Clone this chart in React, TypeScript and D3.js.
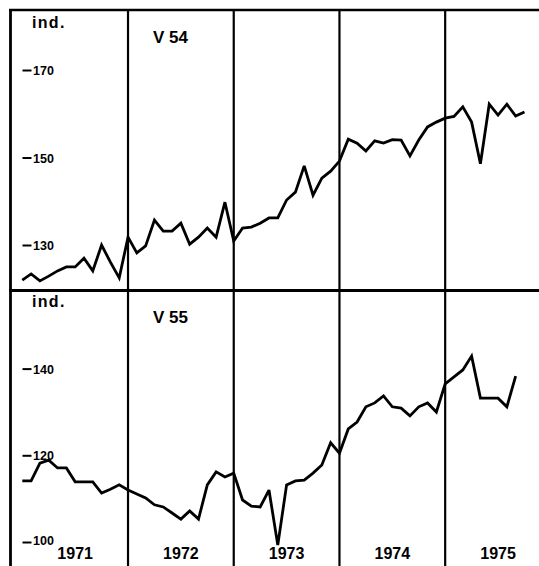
import React from "react";
import * as d3 from "d3";

const years = ["1971", "1972", "1973", "1974", "1975"];

// V54 monthly index, Jan 1971 - Oct 1975
const v54 = [
  122.1, 123.5, 121.9, 123.0, 124.2, 125.1, 125.1, 127.1, 124.2, 130.1, 126.2, 122.6,
  131.9, 128.3, 129.9, 135.8, 133.3, 133.3, 135.1, 130.3, 131.9, 134.0, 131.9, 139.9,
  131.0, 134.0, 134.2, 135.1, 136.3, 136.3, 140.4, 142.2, 148.2, 141.5, 145.4, 147.0,
  149.3, 154.3, 153.4, 151.6, 153.9, 153.4, 154.2, 154.1, 150.5, 154.1, 157.1, 158.2,
  159.1, 159.5, 161.7, 158.2, 148.7, 162.3, 159.8, 162.3, 159.6, 160.5,
];

// V55 monthly index, Jan 1971 - Sep 1975
const v55 = [
  114.2, 114.2, 118.3, 119.0, 117.2, 117.2, 114.0, 114.0, 114.0, 111.4, 112.3, 113.3,
  112.1, 111.2, 110.3, 108.7, 108.2, 106.8, 105.4, 107.3, 105.4, 113.3, 116.3, 115.1,
  116.0, 109.8, 108.4, 108.2, 112.1, 99.4, 113.3, 114.2, 114.4, 116.0, 117.9, 123.0,
  120.6, 126.2, 127.8, 131.3, 132.2, 133.8, 131.3, 131.0, 129.2, 131.3, 132.2, 130.1,
  136.6, 138.2, 139.8, 143.0, 133.3, 133.3, 133.3, 131.3, 138.4,
];

const ticksTop = [130, 150, 170];
const ticksBottom = [100, 120, 140];

const W = 539;
const H = 566;

export default function App() {
  const x = d3.scaleLinear().domain([0, 60]).range([22.3, 22.3 + 60 * 8.81]);
  const yTop = d3.scaleLinear().domain([130, 170]).range([245.5, 70.5]);
  const yBot = d3.scaleLinear().domain([100, 140]).range([542.5, 369.1]);

  const lineTop = d3
    .line<number>()
    .x((_, i) => x(i))
    .y((d) => yTop(d));
  const lineBot = d3
    .line<number>()
    .x((_, i) => x(i))
    .y((d) => yBot(d));

  const font = "'Liberation Sans', Arial, Helvetica, sans-serif";
  const dividers = [12, 24, 36, 48];

  return (
    <svg
      width={W}
      height={H}
      viewBox={`0 0 ${W} ${H}`}
      style={{ position: "absolute", left: 0, top: 0, background: "#fff" }}
      fontFamily={font}
    >
      <rect x={0} y={0} width={W} height={H} fill="#fff" />
      {/* frame */}
      <line x1={10.5} y1={9} x2={10.5} y2={H} stroke="#000" strokeWidth={2.8} />
      <line x1={9} y1={10} x2={W} y2={10} stroke="#000" strokeWidth={2.4} />
      <line x1={9} y1={290.5} x2={W} y2={290.5} stroke="#000" strokeWidth={3} />
      {/* year dividers */}
      {dividers.map((m) => (
        <line key={m} x1={x(m)} y1={10} x2={x(m)} y2={H} stroke="#000" strokeWidth={2.2} />
      ))}

      {/* top panel */}
      <text x={32} y={28} fontSize={16} fontWeight="bold" letterSpacing={1.3}>ind.</text>
      <text x={153} y={43} fontSize={17} fontWeight="bold">V 54</text>
      {ticksTop.map((t) => (
        <g key={t}>
          <line x1={22.5} x2={31.5} y1={yTop(t)} y2={yTop(t)} stroke="#000" strokeWidth={2} />
          <text x={33} y={yTop(t) + 4.5} fontSize={12.5} fontWeight="bold">{t}</text>
        </g>
      ))}
      <path d={lineTop(v54) || ""} fill="none" stroke="#000" strokeWidth={2.8} strokeLinejoin="miter" strokeMiterlimit={3} />

      {/* bottom panel */}
      <text x={32} y={307} fontSize={16} fontWeight="bold" letterSpacing={1.3}>ind.</text>
      <text x={153} y={323} fontSize={17} fontWeight="bold">V 55</text>
      {ticksBottom.map((t) => (
        <g key={t}>
          <line x1={22.5} x2={31.5} y1={yBot(t)} y2={yBot(t)} stroke="#000" strokeWidth={2} />
          <text x={33} y={yBot(t) + (t === 100 ? 2 : 4.5)} fontSize={12.5} fontWeight="bold">{t}</text>
        </g>
      ))}
      <path d={lineBot(v55) || ""} fill="none" stroke="#000" strokeWidth={2.8} strokeLinejoin="miter" strokeMiterlimit={3} />

      {years.map((yr, i) => (
        <text key={yr} x={x(i * 12 + 6)} y={559} fontSize={16} fontWeight="bold" textAnchor="middle">
          {yr}
        </text>
      ))}
    </svg>
  );
}
